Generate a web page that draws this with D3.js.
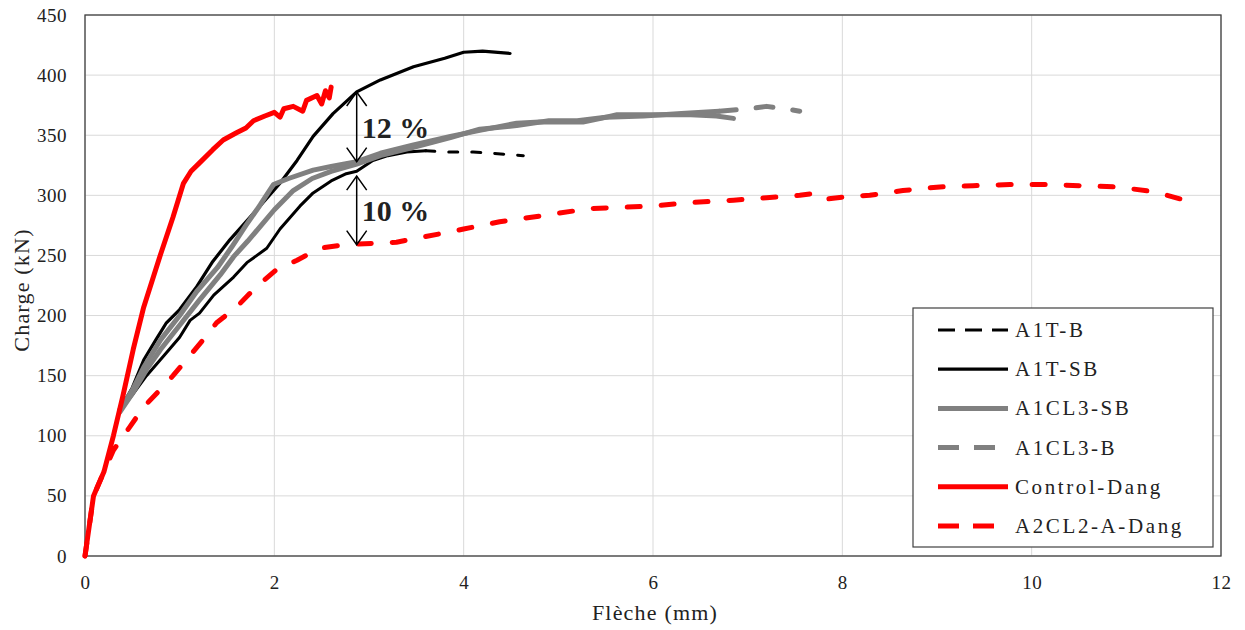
<!DOCTYPE html>
<html>
<head>
<meta charset="utf-8">
<script src="https://cdn.jsdelivr.net/npm/d3@7"></script>
<style>
    body { margin: 0; background: #fff; }
    .chart text { font-family: 'Liberation Serif', 'Times New Roman', serif; fill: #222; }
    .grid line { stroke: #d9d9d9; stroke-width: 1; }
</style>
</head>
<body>
<div class="chart"></div>
<script>
// flèche (mm) / charge (kN)
const controlDang = [[0, 0], [0.09, 50], [0.2, 70], [0.3, 100], [0.4, 133], [0.51, 172], [0.62, 207], [0.79, 249], [0.93, 282], [1.04, 310], [1.12, 320], [1.21, 327], [1.35, 338], [1.46, 346], [1.6, 352], [1.7, 356], [1.78, 362], [1.9, 366], [2.0, 369], [2.06, 365], [2.1, 372], [2.2, 374], [2.3, 370], [2.34, 379], [2.45, 383], [2.5, 376], [2.54, 387], [2.58, 381], [2.6, 390]];
const a1tSB = [[0.37, 122], [0.5, 140], [0.62, 163], [0.75, 180], [0.86, 194], [1.0, 205], [1.18, 224], [1.35, 245], [1.53, 263], [1.78, 285], [2.06, 310], [2.24, 329], [2.41, 349], [2.62, 368], [2.87, 386], [3.12, 396], [3.47, 407], [3.8, 414], [4.0, 419], [4.2, 420], [4.49, 418]];
const a1tB = [[0.38, 122], [0.51, 135], [0.65, 150], [0.86, 169], [1.0, 182], [1.11, 196], [1.21, 202], [1.36, 217], [1.57, 232], [1.71, 244], [1.92, 256], [2.06, 272], [2.27, 291], [2.41, 302], [2.6, 312], [2.76, 318], [2.87, 320], [3.04, 329], [3.2, 333], [3.4, 336], [3.6, 337], [3.82, 336], [4.1, 336], [4.3, 335], [4.63, 333]];
const a1cl3SB = [[0.37, 122], [0.5, 138], [0.62, 157], [0.8, 180], [1.0, 200], [1.18, 220], [1.4, 240], [1.55, 257], [1.7, 275], [1.85, 292], [1.99, 309], [2.15, 314], [2.41, 321], [2.6, 324], [2.87, 328], [3.12, 335], [3.47, 342], [3.86, 349], [4.17, 354], [4.56, 360], [4.8, 361], [5.26, 361], [5.45, 364], [5.62, 367], [6.14, 367], [6.4, 367], [6.67, 366], [6.85, 364]];
const a1cl3B = [[0.37, 120], [0.5, 135], [0.65, 155], [0.8, 172], [1.0, 192], [1.2, 212], [1.43, 234], [1.57, 249], [1.72, 262], [1.85, 274], [2.0, 288], [2.2, 304], [2.4, 314], [2.6, 320], [2.87, 326], [3.12, 333], [3.47, 340], [3.86, 348], [4.17, 355], [4.56, 358], [4.9, 362], [5.2, 362], [5.5, 365], [5.9, 366], [6.3, 368], [6.7, 370], [7.02, 372], [7.2, 374], [7.4, 372], [7.55, 370]];
const a2cl2ADang = [[0, 0], [0.09, 50], [0.2, 70], [0.3, 88], [0.47, 107], [0.62, 124], [0.79, 138], [0.93, 150], [1.07, 163], [1.25, 180], [1.39, 194], [1.6, 207], [1.81, 224], [2.02, 238], [2.24, 246], [2.48, 256], [2.76, 259], [3.29, 261], [3.75, 268], [4.0, 272], [4.38, 278], [4.91, 284], [5.33, 289], [5.97, 291], [6.39, 294], [6.85, 296], [7.2, 298], [7.55, 300], [7.75, 302], [7.85, 297], [8.05, 299], [8.29, 300], [8.64, 304], [9.03, 307], [9.38, 308], [9.77, 309], [10.16, 309], [10.51, 308], [10.9, 307], [11.29, 303], [11.57, 297]];

const seriesNames = ['A1T-B', 'A1T-SB', 'A1CL3-SB', 'A1CL3-B', 'Control-Dang', 'A2CL2-A-Dang'];
const seriesData = [a1tB, a1tSB, a1cl3SB, a1cl3B, controlDang, a2cl2ADang];
const xTicks = [0, 2, 4, 6, 8, 10, 12];
const yTicks = [0, 50, 100, 150, 200, 250, 300, 350, 400, 450];
// annotation arrows: [x, from, to, label]
const gapArrows = [[2.87, 386, 328, '12 %'], [2.87, 316, 259, '10 %']];

(function () {
    const W = 1245, H = 630;
    const plot = { left: 85, right: 1221, top: 15, bottom: 556 };

    // dashFrom: Excel draws the dense noisy part as if solid
    const styles = {
        'A1T-B': { color: '#000', width: 3, dash: '9,14', dashFrom: 3.8, legendDash: '17,10' },
        'A1T-SB': { color: '#000', width: 3.2 },
        'A1CL3-SB': { color: '#808080', width: 5 },
        'A1CL3-B': { color: '#808080', width: 5, dash: '17,20', dashFrom: 6.9, legendDash: '21,15' },
        'Control-Dang': { color: '#ff0000', width: 5 },
        'A2CL2-A-Dang': { color: '#ff0000', width: 5, dash: '13,21', dashFrom: 0, legendDash: '21,14' }
    };

    let x = d3.scaleLinear().domain([0, 12]).range([plot.left, plot.right]);
    let y = d3.scaleLinear().domain([0, 450]).range([plot.bottom, plot.top]);

    let svg = d3.select('.chart').append('svg')
        .attr('width', W)
        .attr('height', H);

    // grid
    let grid = svg.append('g').classed('grid', true);
    grid.selectAll('.gy').data(yTicks).enter().append('line')
        .attr('x1', plot.left).attr('x2', plot.right)
        .attr('y1', d => y(d)).attr('y2', d => y(d));
    grid.selectAll('.gx').data(xTicks).enter().append('line')
        .attr('y1', plot.top).attr('y2', plot.bottom)
        .attr('x1', d => x(d)).attr('x2', d => x(d));

    // axes (labels only, no tick marks)
    let xAxis = svg.append('g')
        .attr('transform', `translate(0,${plot.bottom})`)
        .call(d3.axisBottom(x).tickValues(xTicks).tickSize(0).tickPadding(20).tickFormat(d3.format('d')));
    let yAxis = svg.append('g')
        .attr('transform', `translate(${plot.left},0)`)
        .call(d3.axisLeft(y).tickValues(yTicks).tickSize(0).tickPadding(18).tickFormat(d3.format('d')));
    [xAxis, yAxis].forEach(function (a) {
        a.select('.domain').remove();
        a.selectAll('text').style('font-size', '19px').style('font-family', "'Liberation Serif', serif")
            .style('letter-spacing', '0.5px').attr('fill', '#222');
    });

    svg.append('rect')
        .attr('x', plot.left).attr('y', plot.top)
        .attr('width', plot.right - plot.left).attr('height', plot.bottom - plot.top)
        .attr('fill', 'none').attr('stroke', '#404040').attr('stroke-width', 1.3);

    // curves
    let line = d3.line().x(d => x(d[0])).y(d => y(d[1]));
    let curves = svg.append('g');
    seriesNames.forEach(function (name, i) {
        let s = styles[name];
        let data = seriesData[i];
        let parts = [];
        if (s.dash) {
            let solid = data.filter(d => d[0] <= s.dashFrom);
            let dashed = data.filter(d => d[0] >= s.dashFrom);
            if (solid.length > 1) parts.push([solid, null]);
            // keep the joint so the dashed part starts where the solid one stops
            if (solid.length && dashed.length && dashed[0][0] > s.dashFrom) dashed.unshift(solid[solid.length - 1]);
            parts.push([dashed, s.dash]);
        } else {
            parts.push([data, null]);
        }
        parts.forEach(function (p) {
            curves.append('path')
                .datum(p[0])
                .attr('d', line)
                .attr('fill', 'none')
                .attr('stroke', s.color)
                .attr('stroke-width', s.width)
                .attr('stroke-linejoin', 'round')
                .attr('stroke-linecap', 'round')
                .attr('stroke-dasharray', p[1]);
        });
    });

    // double arrows with percentages
    let ann = svg.append('g');
    gapArrows.forEach(function (a) {
        let ax = x(a[0]), y1 = y(a[1]), y2 = y(a[2]);
        ann.append('line')
            .attr('x1', ax).attr('x2', ax).attr('y1', y1).attr('y2', y2)
            .attr('stroke', '#000').attr('stroke-width', 1.5);
        ann.append('path')
            .attr('d', `M${ax - 10},${y1 + 14}L${ax},${y1}L${ax + 10},${y1 + 14}M${ax - 10},${y2 - 14}L${ax},${y2}L${ax + 10},${y2 - 14}`)
            .attr('fill', 'none').attr('stroke', '#000').attr('stroke-width', 1.5);
        ann.append('text')
            .attr('x', ax + 5)
            .attr('y', (y1 + y2) / 2 + 11)
            .style('font-size', '30px')
            .style('font-weight', 'bold')
            .attr('fill', '#000')
            .text(a[3]);
    });

    // legend
    let legend = svg.append('g').attr('transform', 'translate(913,308)');
    legend.append('rect')
        .attr('width', 300).attr('height', 239)
        .attr('fill', '#fff').attr('stroke', '#404040').attr('stroke-width', 1.2);
    seriesNames.forEach(function (name, i) {
        let s = styles[name];
        let ly = 22 + i * 39.2;
        legend.append('line')
            .attr('x1', 25).attr('x2', 95).attr('y1', ly).attr('y2', ly)
            .attr('stroke', s.color)
            .attr('stroke-width', s.width)
            .attr('stroke-dasharray', s.legendDash || null);
        legend.append('text')
            .attr('x', 102).attr('y', ly + 7)
            .style('font-size', '21px')
            .style('letter-spacing', '2.6px')
            .text(name);
    });

    // axis titles
    svg.append('text')
        .attr('x', (plot.left + plot.right) / 2 + 2)
        .attr('y', 620)
        .attr('text-anchor', 'middle')
        .style('font-size', '22px')
        .style('letter-spacing', '1.2px')
        .text('Flèche (mm)');
    svg.append('text')
        .attr('transform', 'translate(29,290) rotate(-90)')
        .attr('text-anchor', 'middle')
        .style('font-size', '22px')
        .style('letter-spacing', '1.2px')
        .text('Charge (kN)');
})();
</script>
</body>
</html>
